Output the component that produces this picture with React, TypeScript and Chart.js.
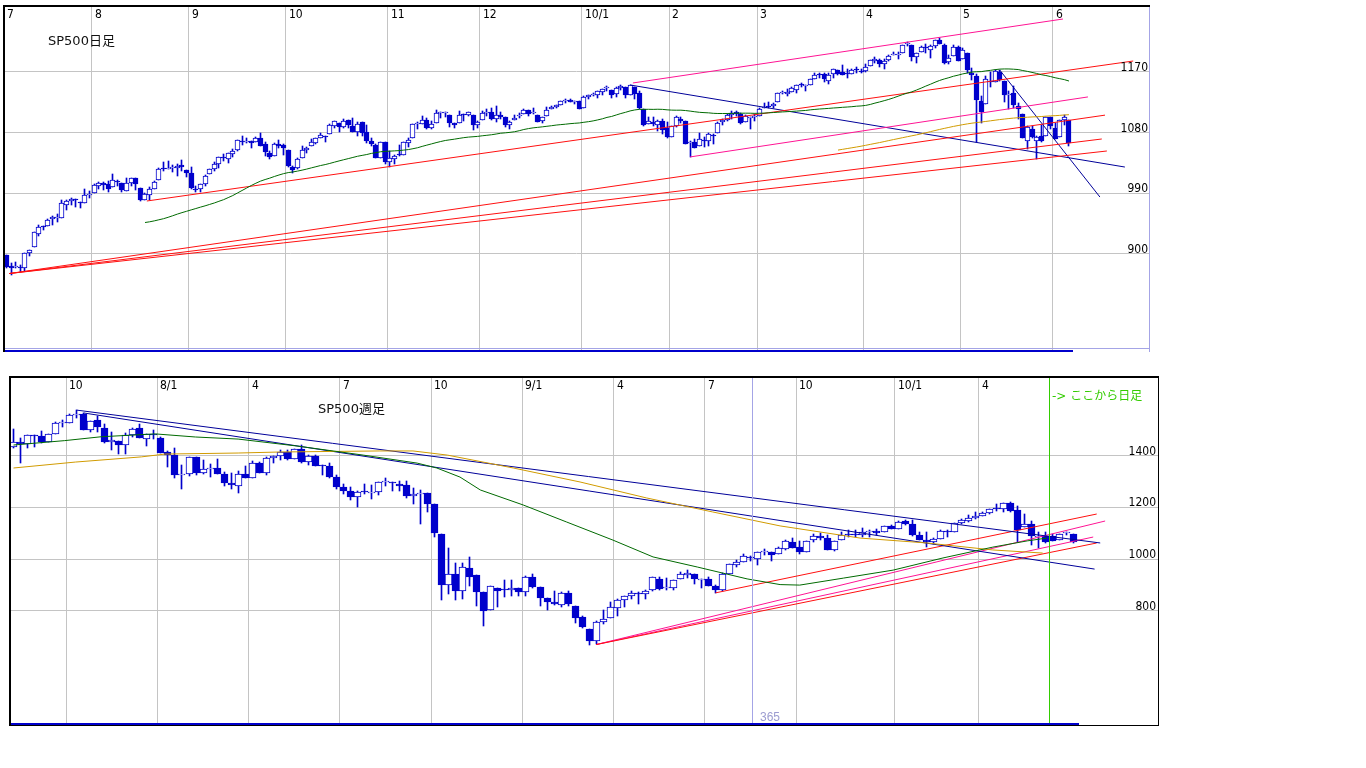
import React, { useEffect, useRef } from "react";
import { Chart, registerables } from "chart.js";

Chart.register(...registerables);

// ---------------- DAILY (SP500 日足, 2009/7/7 - 2010/6/4) ----------------
const dailyMonthStarts = [0, 19, 40, 61, 83, 103, 125, 144, 163, 186, 207, 227];
const dailyMonthLabels = ["7", "8", "9", "10", "11", "12", "10/1", "2", "3", "4", "5", "6"];
const dailyPriceTicks = [900, 990, 1080, 1170];

const dailyOpen = [
  898.6, 881.9, 881.3, 880.0, 879.6, 900.8, 910.2, 930.2, 940.6, 942.1, 951.9, 953.4, 954.1, 972.2, 978.6, 981.5, 977.7, 976.0, 986.8,
  990.2, 1001.4, 1005.4, 1004.1, 999.8, 1008.9, 1005.8, 994.0, 1005.9, 1012.2, 998.2, 980.6, 986.9, 996.4, 1009.1, 1026.6, 1026.6, 1027.4, 1027.8, 1031.6, 1025.2,
  1019.5, 996.1, 996.1, 1003.8, 1018.7, 1025.4, 1033.0, 1043.9, 1040.2, 1049.0, 1054.0, 1067.9, 1066.6, 1067.1, 1066.4, 1072.7, 1062.6, 1049.5, 1045.4, 1063.7, 1061.0,
  1054.9, 1029.7, 1026.9, 1042.0, 1053.7, 1060.0, 1065.3, 1071.6, 1075.0, 1078.7, 1090.4, 1094.7, 1088.2, 1098.6, 1090.4, 1081.0, 1095.6, 1080.4, 1067.5, 1061.5, 1043.0, 1065.4,
  1036.2, 1040.9, 1047.1, 1047.3, 1065.0, 1072.3, 1092.2, 1093.1, 1098.3, 1087.6, 1094.1, 1109.2, 1109.4, 1106.4, 1094.7, 1094.9, 1105.8, 1106.5, 1105.5, 1091.1,
  1098.9, 1109.0, 1110.6, 1100.4, 1105.5, 1103.0, 1091.1, 1098.7, 1104.0, 1107.8, 1114.1, 1108.6, 1106.4, 1097.9, 1105.3, 1114.5, 1118.8, 1121.1, 1127.5, 1128.6, 1125.5, 1126.6,
  1116.6, 1132.7, 1135.7, 1136.3, 1140.5, 1146.0, 1143.8, 1137.3, 1145.7, 1147.7, 1136.0, 1148.0, 1138.7, 1115.5, 1092.4, 1095.8, 1091.9, 1096.9, 1087.6,
  1073.9, 1090.1, 1100.7, 1097.3, 1064.1, 1065.5, 1060.1, 1069.7, 1067.1, 1076.0, 1079.1, 1096.1, 1099.0, 1105.5, 1110.0, 1107.5, 1095.9, 1101.2, 1103.1,
  1105.4, 1117.0, 1119.4, 1119.1, 1125.1, 1138.4, 1137.6, 1140.2, 1144.0, 1151.7, 1148.5, 1150.8, 1159.9, 1166.1, 1166.7, 1157.3, 1166.5, 1172.7, 1170.0, 1167.6, 1167.7, 1173.8, 1171.8,
  1171.2, 1178.7, 1186.0, 1188.2, 1181.8, 1187.5, 1194.9, 1195.9, 1198.7, 1210.8, 1210.2, 1192.1, 1199.0, 1207.2, 1202.5, 1207.9, 1217.1, 1209.9, 1184.6, 1193.3, 1206.8,
  1188.6, 1197.5, 1169.2, 1164.4, 1127.0, 1122.3, 1156.4, 1155.4, 1170.0, 1157.2, 1136.5, 1138.8, 1119.6, 1107.3, 1067.3, 1084.8, 1067.4, 1075.5, 1074.3, 1102.6,
  1087.3, 1073.0, 1098.8, 1098.4,
];
const dailyHigh = [
  898.6, 886.8, 887.9, 883.6, 901.1, 905.8, 933.0, 943.0, 941.9, 951.6, 956.5, 959.8, 979.4, 979.8, 982.5, 982.2, 977.8, 996.7, 993.2,
  1003.6, 1007.1, 1006.6, 1008.0, 1018.0, 1010.1, 1005.8, 1012.8, 1013.1, 1012.6, 998.2, 991.2, 999.6, 1008.9, 1027.6, 1035.8, 1037.8, 1032.5, 1033.3, 1039.5, 1025.2,
  1028.5, 1000.3, 1003.4, 1016.5, 1026.1, 1036.3, 1044.1, 1048.2, 1049.7, 1056.0, 1068.8, 1074.8, 1071.5, 1067.3, 1073.8, 1080.2, 1066.3, 1053.5, 1065.1, 1069.6, 1063.4,
  1054.9, 1030.6, 1042.6, 1060.6, 1058.0, 1070.7, 1071.5, 1079.5, 1075.3, 1093.2, 1096.6, 1094.7, 1100.2, 1098.6, 1101.4, 1095.2, 1095.8, 1091.8, 1072.5, 1063.3, 1066.8, 1065.4,
  1052.2, 1046.4, 1061.0, 1066.7, 1071.5, 1093.2, 1095.8, 1105.4, 1102.0, 1097.6, 1113.7, 1110.5, 1111.1, 1106.4, 1094.7, 1112.4, 1107.6, 1111.2, 1105.5, 1097.2,
  1112.3, 1115.6, 1117.3, 1119.1, 1110.7, 1103.0, 1097.0, 1106.3, 1108.5, 1114.8, 1114.1, 1116.2, 1106.4, 1103.7, 1117.7, 1120.0, 1121.6, 1126.5, 1130.4, 1130.4, 1126.4, 1127.6,
  1133.9, 1136.6, 1139.2, 1142.5, 1145.4, 1149.7, 1143.8, 1148.4, 1150.4, 1147.8, 1150.5, 1148.0, 1141.6, 1115.5, 1103.0, 1103.7, 1099.5, 1100.2, 1096.5,
  1089.4, 1104.7, 1102.7, 1097.3, 1067.1, 1071.2, 1079.3, 1073.7, 1080.0, 1077.8, 1095.7, 1100.0, 1108.2, 1112.4, 1112.3, 1108.6, 1106.4, 1103.5, 1107.2,
  1116.1, 1123.5, 1125.6, 1123.7, 1139.4, 1141.1, 1145.4, 1148.3, 1150.2, 1153.4, 1151.0, 1160.3, 1169.2, 1167.8, 1169.2, 1167.8, 1174.7, 1173.0, 1180.7, 1173.9, 1174.9, 1177.8, 1174.6,
  1181.4, 1187.7, 1191.8, 1189.6, 1188.6, 1194.7, 1199.2, 1199.0, 1210.7, 1213.9, 1210.2, 1197.9, 1208.6, 1211.0, 1210.3, 1217.3, 1219.8, 1211.4, 1195.1, 1209.4, 1208.0,
  1205.1, 1197.5, 1176.0, 1167.6, 1135.1, 1163.9, 1170.5, 1172.9, 1173.6, 1157.2, 1141.9, 1148.7, 1124.3, 1107.3, 1090.2, 1090.0, 1074.7, 1090.8, 1103.5, 1102.6,
  1094.8, 1098.6, 1105.7, 1098.4,
];
const dailyLow = [
  879.9, 869.3, 878.5, 872.8, 875.3, 896.5, 910.2, 927.4, 934.9, 940.9, 943.2, 947.8, 953.3, 965.9, 972.3, 969.4, 968.7, 976.0, 982.9,
  990.2, 996.7, 994.3, 992.5, 999.8, 1001.0, 992.4, 993.4, 1000.8, 994.6, 978.5, 980.6, 980.6, 996.4, 1009.1, 1022.5, 1026.2, 1021.6, 1016.2, 1023.1, 1014.6,
  996.3, 992.0, 992.3, 1001.6, 1018.7, 1023.2, 1028.0, 1038.4, 1035.0, 1043.4, 1052.9, 1061.0, 1064.3, 1057.5, 1066.4, 1060.4, 1045.9, 1041.2, 1045.4, 1057.8, 1046.5,
  1029.4, 1020.0, 1025.9, 1042.0, 1050.0, 1060.0, 1063.0, 1071.6, 1066.7, 1078.7, 1086.4, 1081.5, 1086.5, 1086.2, 1080.8, 1074.3, 1075.5, 1065.2, 1060.6, 1042.2, 1043.0, 1033.4,
  1029.4, 1033.9, 1045.2, 1047.3, 1059.3, 1072.3, 1086.0, 1093.1, 1084.9, 1085.3, 1094.1, 1102.2, 1102.7, 1088.4, 1086.8, 1094.9, 1097.6, 1104.8, 1083.7, 1086.3,
  1098.9, 1105.3, 1098.7, 1096.5, 1100.8, 1088.6, 1085.9, 1098.7, 1101.3, 1107.8, 1105.4, 1108.0, 1095.9, 1093.9, 1105.3, 1114.5, 1116.0, 1121.1, 1123.5, 1126.1, 1121.9, 1114.8,
  1116.6, 1129.7, 1134.0, 1131.3, 1136.2, 1142.0, 1131.8, 1133.2, 1143.8, 1131.4, 1135.2, 1129.3, 1114.8, 1090.2, 1092.4, 1089.9, 1083.1, 1078.5, 1071.6,
  1073.9, 1088.0, 1094.0, 1062.8, 1044.5, 1056.5, 1060.1, 1059.3, 1060.1, 1063.0, 1079.1, 1091.3, 1097.5, 1100.8, 1105.4, 1092.2, 1095.9, 1086.0, 1097.6,
  1105.4, 1116.5, 1116.6, 1116.1, 1125.1, 1136.8, 1134.9, 1140.1, 1139.0, 1147.0, 1141.5, 1150.4, 1159.9, 1161.2, 1155.3, 1152.9, 1161.6, 1166.0, 1165.1, 1161.5, 1167.7, 1168.5, 1168.6,
  1170.7, 1178.7, 1182.8, 1177.3, 1175.1, 1186.0, 1194.7, 1188.8, 1198.7, 1208.5, 1186.8, 1183.7, 1199.0, 1198.9, 1190.2, 1205.1, 1211.1, 1181.6, 1181.8, 1193.3, 1186.3,
  1188.6, 1168.1, 1158.2, 1065.8, 1094.2, 1122.3, 1147.7, 1155.4, 1156.1, 1126.1, 1115.0, 1117.2, 1100.7, 1071.6, 1055.9, 1072.7, 1040.8, 1065.6, 1074.3, 1084.8,
  1069.9, 1073.0, 1091.8, 1060.5,
];
const dailyClose = [
  881.0, 879.6, 882.7, 879.1, 901.1, 905.8, 932.7, 940.7, 940.4, 951.1, 954.6, 954.1, 976.3, 979.3, 982.2, 979.6, 975.2, 986.8, 987.5,
  1002.6, 1005.7, 1002.7, 997.1, 1010.5, 1007.1, 994.4, 1005.8, 1012.7, 1004.1, 979.7, 989.7, 996.5, 1007.4, 1026.1, 1025.6, 1028.0, 1028.1, 1031.0, 1028.9, 1020.6,
  998.0, 994.8, 1003.2, 1016.4, 1025.4, 1033.4, 1044.1, 1042.7, 1049.3, 1052.6, 1068.8, 1065.5, 1068.3, 1064.7, 1071.7, 1060.9, 1050.8, 1044.4, 1063.0, 1060.6, 1057.1,
  1029.9, 1025.2, 1040.5, 1054.7, 1057.6, 1065.5, 1071.5, 1076.2, 1073.2, 1092.0, 1096.6, 1087.7, 1097.9, 1091.1, 1081.4, 1092.9, 1079.6, 1067.0, 1063.4, 1042.6, 1066.1, 1036.2,
  1042.9, 1045.4, 1046.5, 1066.6, 1069.3, 1093.1, 1093.0, 1098.5, 1087.2, 1093.5, 1109.3, 1110.3, 1109.8, 1094.9, 1091.4, 1106.2, 1105.7, 1110.6, 1091.5, 1095.6,
  1108.9, 1109.2, 1099.9, 1106.0, 1103.3, 1091.9, 1096.0, 1102.4, 1106.4, 1114.1, 1107.9, 1109.2, 1096.1, 1102.5, 1114.1, 1118.0, 1120.6, 1126.5, 1127.8, 1126.2, 1126.4, 1115.1,
  1133.0, 1136.5, 1137.1, 1141.7, 1145.0, 1147.0, 1136.2, 1145.7, 1148.5, 1136.0, 1150.2, 1138.0, 1116.5, 1091.8, 1096.8, 1092.2, 1097.5, 1084.5, 1073.9,
  1089.2, 1103.3, 1097.3, 1063.1, 1066.2, 1056.7, 1070.5, 1068.1, 1078.5, 1075.5, 1094.9, 1099.5, 1106.8, 1109.2, 1108.0, 1094.6, 1105.2, 1102.9, 1104.5,
  1115.7, 1118.3, 1118.8, 1123.0, 1138.7, 1138.5, 1140.5, 1145.6, 1150.2, 1150.0, 1150.5, 1159.5, 1166.2, 1165.8, 1159.9, 1165.8, 1174.2, 1167.7, 1165.7, 1166.6, 1173.2, 1173.3, 1169.4,
  1178.1, 1187.4, 1189.4, 1182.5, 1186.4, 1194.4, 1196.5, 1197.3, 1210.7, 1211.7, 1192.1, 1197.5, 1207.2, 1205.9, 1208.7, 1217.3, 1212.1, 1183.7, 1191.4, 1206.8, 1186.7,
  1202.3, 1173.6, 1165.9, 1128.2, 1110.9, 1159.7, 1155.8, 1171.7, 1157.4, 1135.7, 1136.9, 1120.8, 1115.1, 1071.6, 1087.7, 1073.7, 1074.0, 1068.0, 1103.1, 1089.4,
  1070.7, 1098.4, 1102.8, 1064.9,
];
// closes of the 19 sessions before the first bar (used by the moving averages)
const dailyHistoryClose = [
  942.4, 939.2, 944.9, 946.2, 923.7, 912.0, 910.7, 918.4, 921.2, 893.0, 895.1, 900.9, 920.3, 918.9, 927.2, 919.3, 923.3, 896.4, 898.7,
];
const dailyMaShort = 50;
const dailyMaLong = 200;

// trend lines (bar index, price)
const dailyRedLines: [number, number][][] = [
  [[0.6, 871], [237.8, 1106]],
  [[0.6, 871], [237.1, 1070.6]],
  [[0.6, 871], [238.2, 1052.8]],
  [[30.4, 978.6], [243.9, 1186.3]],
];
const dailyPinkLines: [number, number][][] = [
  [[148, 1044], [234.1, 1133]],
  [[135.6, 1153.7], [228.7, 1248.6]],
];
const dailyNavyLines: [number, number][][] = [
  [[135, 1150.7], [242.1, 1029]],
  [[215, 1173], [236.7, 984.5]],
];

// ---------------- WEEKLY (SP500 週足, 2007/8 - 2010/6, last 4 bars daily) ----------------
const weeklyQuarterStarts = [8, 21, 34, 47, 60, 73, 86, 99, 112, 126, 138];
const weeklyQuarterLabels = ["10", "8/1", "4", "7", "10", "9/1", "4", "7", "10", "10/1", "4"];
const weeklyPriceTicks = [800, 1000, 1200, 1400];
const weeklyDailyFrom = 148;
const weeklyMarker = 105.2;

const weeklyOpen = [
  1433.1, 1453.4, 1445.6, 1479.4, 1474.0, 1453.4, 1484.2, 1525.8, 1527.3, 1557.4,
  1562.0, 1500.6, 1536.9, 1505.0, 1453.7, 1456.4, 1440.7, 1479.6, 1505.1, 1465.1,
  1484.9, 1468.0, 1414.8, 1404.0, 1325.2, 1330.5, 1395.4, 1331.1, 1350.0, 1353.1,
  1330.5, 1293.2, 1283.2, 1330.5, 1315.2, 1370.2, 1332.2, 1390.8, 1397.8, 1415.3,
  1388.3, 1425.3, 1375.9, 1399.6, 1360.8, 1360.0, 1317.9, 1278.1, 1262.9, 1239.5,
  1261.8, 1257.1, 1260.3, 1296.3, 1298.1, 1290.5, 1287.8, 1242.3, 1251.7, 1255.4,
  1213.1, 1097.6, 899.2, 940.5, 876.8, 966.3, 936.8, 873.5, 801.2, 888.6,
  882.2, 881.1, 887.2, 870.6, 929.2, 890.4, 849.6, 832.5, 823.1, 869.0,
  818.7, 773.7, 729.6, 683.4, 756.6, 772.3, 809.1, 842.5, 856.9, 868.3,
  866.2, 879.2, 923.0, 886.1, 887.0, 923.3, 940.0, 943.4, 918.1, 920.8,
  894.3, 880.0, 942.1, 978.6, 990.2, 1008.9, 998.2, 1026.6, 1025.2, 1018.7,
  1040.2, 1067.1, 1045.4, 1026.9, 1071.6, 1088.2, 1080.4, 1036.2, 1072.3, 1094.1,
  1094.9, 1091.1, 1105.5, 1107.8, 1105.3, 1127.5, 1116.6, 1146.0, 1136.0, 1092.4,
  1073.9, 1065.5, 1079.1, 1110.0, 1105.4, 1138.4, 1148.5, 1157.3, 1167.7, 1178.7,
  1194.9, 1192.1, 1217.1, 1188.6, 1122.3, 1136.5, 1084.8, 1087.3,
  1087.3, 1073.0, 1098.8, 1098.4,
];
const weeklyHigh = [
  1503.9, 1466.3, 1479.4, 1481.5, 1496.4, 1485.0, 1530.0, 1538.7, 1561.9, 1576.1,
  1564.7, 1535.3, 1552.8, 1520.8, 1492.1, 1456.4, 1488.9, 1508.1, 1523.6, 1485.4,
  1498.8, 1471.8, 1418.0, 1428.0, 1365.4, 1396.0, 1395.4, 1382.0, 1367.9, 1388.0,
  1335.1, 1333.5, 1341.6, 1359.7, 1380.9, 1377.0, 1395.9, 1400.0, 1421.6, 1422.7,
  1426.1, 1440.2, 1404.1, 1404.1, 1364.3, 1370.6, 1326.0, 1291.2, 1278.5, 1262.3,
  1291.2, 1284.7, 1297.9, 1313.2, 1298.1, 1300.7, 1303.0, 1274.4, 1265.1, 1255.5,
  1213.1, 1097.6, 1044.3, 985.4, 984.4, 1007.5, 936.8, 873.5, 896.2, 888.6,
  918.6, 918.9, 887.4, 934.7, 943.9, 890.4, 849.6, 877.9, 870.8, 875.0,
  818.7, 780.1, 729.6, 758.3, 804.5, 833.0, 845.6, 856.9, 875.6, 871.8,
  880.3, 930.2, 930.2, 924.6, 920.0, 951.0, 956.2, 943.4, 922.0, 931.9,
  898.7, 944.0, 979.8, 996.7, 1018.0, 1013.1, 1027.6, 1039.5, 1028.5, 1048.2,
  1074.8, 1080.2, 1069.6, 1071.5, 1096.6, 1101.4, 1091.8, 1071.5, 1105.4, 1113.7,
  1112.4, 1119.1, 1110.7, 1116.2, 1126.5, 1130.4, 1145.4, 1150.4, 1150.5, 1103.7,
  1104.7, 1080.0, 1112.4, 1112.3, 1139.4, 1153.4, 1169.2, 1180.7, 1181.4, 1194.7,
  1213.9, 1217.3, 1219.8, 1205.1, 1173.6, 1148.7, 1103.5, 1105.7,
  1094.8, 1098.6, 1105.7, 1098.4,
];
const weeklyLow = [
  1429.4, 1370.6, 1430.5, 1432.0, 1449.1, 1453.4, 1484.2, 1510.8, 1526.6, 1546.7,
  1500.6, 1489.6, 1492.5, 1448.2, 1420.3, 1406.1, 1407.1, 1472.4, 1467.4, 1435.7,
  1464.0, 1411.2, 1357.7, 1312.0, 1270.1, 1322.4, 1324.3, 1330.1, 1317.7, 1330.7,
  1282.4, 1272.3, 1257.0, 1313.2, 1315.2, 1331.9, 1324.4, 1370.9, 1384.1, 1384.5,
  1386.6, 1373.1, 1362.7, 1359.1, 1325.9, 1314.5, 1272.0, 1252.0, 1228.4, 1200.4,
  1250.8, 1233.7, 1247.5, 1282.8, 1261.3, 1262.5, 1236.1, 1212.3, 1133.5, 1180.7,
  1084.4, 839.8, 865.8, 840.9, 845.3, 897.0, 818.7, 741.0, 801.2, 815.7,
  851.4, 857.7, 857.1, 857.7, 888.3, 817.0, 804.3, 821.7, 812.8, 818.4,
  754.3, 734.7, 666.8, 672.9, 747.2, 772.3, 779.8, 814.5, 844.3, 826.8,
  847.1, 875.6, 878.9, 880.9, 881.5, 923.3, 927.2, 904.8, 888.9, 896.4,
  869.3, 875.3, 940.9, 968.7, 990.2, 992.4, 978.5, 1016.2, 992.0, 1018.7,
  1035.0, 1041.2, 1020.0, 1025.9, 1066.7, 1074.3, 1033.4, 1029.4, 1072.3, 1086.8,
  1083.7, 1086.3, 1085.9, 1093.9, 1105.3, 1114.8, 1116.6, 1131.4, 1090.2, 1071.6,
  1044.5, 1056.5, 1079.1, 1086.0, 1105.4, 1134.9, 1141.5, 1152.9, 1167.7, 1175.1,
  1186.8, 1183.7, 1181.6, 1065.8, 1122.3, 1055.9, 1040.8, 1060.5,
  1069.9, 1073.0, 1091.8, 1060.5,
];
const weeklyClose = [
  1453.6, 1445.9, 1479.4, 1474.0, 1453.6, 1484.3, 1525.8, 1526.8, 1557.6, 1561.8,
  1500.6, 1535.3, 1509.7, 1453.7, 1458.7, 1440.7, 1481.1, 1504.7, 1468.0, 1484.5,
  1478.5, 1411.6, 1401.0, 1325.2, 1330.6, 1395.4, 1331.3, 1350.0, 1353.1, 1330.6,
  1293.4, 1288.1, 1329.5, 1315.2, 1370.4, 1332.8, 1390.3, 1397.8, 1413.9, 1388.3,
  1425.4, 1375.9, 1400.4, 1360.7, 1360.0, 1317.9, 1278.4, 1262.9, 1239.5, 1260.7,
  1257.8, 1260.3, 1296.3, 1298.2, 1292.2, 1282.8, 1242.3, 1251.7, 1255.1, 1213.3,
  1099.2, 899.2, 940.6, 876.8, 968.8, 931.0, 873.3, 800.0, 896.2, 876.1,
  879.7, 887.9, 872.8, 931.8, 890.4, 850.1, 832.0, 825.9, 868.6, 826.8,
  770.1, 735.1, 683.4, 756.6, 768.5, 815.9, 842.5, 856.6, 869.6, 866.2,
  877.5, 929.2, 882.9, 887.0, 919.1, 940.1, 946.2, 921.2, 918.9, 896.4,
  879.1, 940.4, 979.3, 987.5, 1010.5, 1004.1, 1026.1, 1028.9, 1016.4, 1042.7,
  1068.3, 1044.4, 1025.2, 1071.5, 1087.7, 1079.6, 1036.2, 1069.3, 1093.5, 1091.4,
  1091.5, 1106.0, 1106.4, 1102.5, 1126.5, 1115.1, 1145.0, 1136.0, 1091.8, 1073.9,
  1066.2, 1075.5, 1109.2, 1104.5, 1138.7, 1150.0, 1159.9, 1166.6, 1178.1, 1194.4,
  1192.1, 1217.3, 1186.7, 1110.9, 1135.7, 1087.7, 1089.4, 1064.9,
  1070.7, 1098.4, 1102.8, 1064.9,
];
// moving averages (bar index, price)
const weeklyMa52: [number, number][] = [
  [0, 1441], [7.3, 1458], [12.5, 1473], [20.2, 1484], [25.9, 1472], [32, 1464], [40.4, 1437],
  [49.8, 1402], [57.5, 1371], [60.3, 1352], [63.6, 1317], [66.5, 1267], [72.6, 1209], [78.8, 1143],
  [85.4, 1073], [91.1, 1008], [97.4, 969], [104.5, 923], [109.2, 901], [112, 899], [118.2, 926],
  [125.3, 957], [132.4, 1004], [139.5, 1046], [144.4, 1070], [147.2, 1081],
];
const weeklyMa100: [number, number][] = [
  [0, 1352], [8.8, 1375], [18.2, 1395], [21.6, 1406], [32, 1410], [38, 1414], [52.2, 1418],
  [56.9, 1418], [61.8, 1402], [71.2, 1352], [80.7, 1298], [90.2, 1236], [99.6, 1182],
  [109.2, 1128], [120.6, 1081], [130.1, 1062], [139.5, 1035], [146.6, 1023],
];
const weeklyNavyLines: [number, number][][] = [
  [[9, 1576], [154.8, 1062]],
  [[10, 1565], [154, 961]],
];
const weeklyRedLines: [number, number][][] = [
  [[100, 869], [154.3, 1174]],
  [[83, 669], [154.3, 1062]],
];
const weeklyPinkLines: [number, number][][] = [
  [[83, 669], [155.5, 1147]],
  [[83, 669], [153.8, 1085]],
];

// ---------------- styling ----------------
const BLUE = "#0000cc";
const RED = "#ff1010";
const PINK = "#ff1493";
const NAVY = "#000099";
const GREEN = "#006a00";
const GOLD = "#d19b00";
const GRID = "#c4c4c4";
const LAVENDER = "#a4a4e6";
const LIME = "#33cc00";
const NUM_FONT = "12px 'Liberation Sans Narrow', 'DejaVu Sans Condensed', 'Liberation Sans', sans-serif";
const TITLE_FONT = "13px 'DejaVu Sans', 'Noto Sans CJK JP', sans-serif";

function movingAverage(history: number[], closes: number[], period: number) {
  const all = [...history, ...closes];
  const pts: { x: number; y: number }[] = [];
  for (let i = 0; i < closes.length; i++) {
    const k = i + history.length;
    if (k < period - 1) continue;
    let s = 0;
    for (let j = k - period + 1; j <= k; j++) s += all[j];
    pts.push({ x: i, y: s / period });
  }
  return pts;
}

function candleSets(o: number[], h: number[], l: number[], c: number[], bodyWidth: number) {
  const idx = o.map((_, i) => i);
  return [
    {
      type: "bar",
      data: idx.map((i) => ({ x: i, y: [l[i], h[i]] })),
      backgroundColor: BLUE,
      borderWidth: 0,
      barThickness: 1,
      grouped: false,
      order: 3,
    },
    {
      type: "bar",
      data: idx.map((i) => ({ x: i, y: [o[i], c[i]] })),
      backgroundColor: idx.map((i) => (c[i] >= o[i] ? "#ffffff" : BLUE)),
      borderColor: BLUE,
      borderWidth: 1,
      borderSkipped: false,
      barThickness: bodyWidth,
      minBarLength: 1,
      grouped: false,
      order: 2,
    },
  ];
}

function lineSet(points: { x: number; y: number }[], color: string, width = 1) {
  return {
    type: "line",
    data: points,
    borderColor: color,
    borderWidth: width,
    pointRadius: 0,
    fill: false,
    tension: 0,
    order: 1,
  };
}

function segSets(segs: [number, number][][], color: string) {
  return segs.map((s) => lineSet(s.map(([x, y]) => ({ x, y })), color));
}

function scalesFor(xmin: number, xmax: number, ymin: number, ymax: number, xt: number[], yt: number[]) {
  return {
    x: {
      type: "linear",
      min: xmin,
      max: xmax,
      offset: false,
      grid: { color: GRID, lineWidth: 1, drawTicks: false, offset: false },
      border: { display: false },
      ticks: { display: false },
      afterBuildTicks: (s: any) => {
        s.ticks = xt.map((v) => ({ value: v }));
      },
      afterFit: (s: any) => {
        s.height = 0;
      },
    },
    y: {
      type: "linear",
      position: "right",
      min: ymin,
      max: ymax,
      grid: { color: GRID, lineWidth: 1, drawTicks: false },
      border: { display: false },
      ticks: { display: false },
      afterBuildTicks: (s: any) => {
        s.ticks = yt.map((v) => ({ value: v }));
      },
      afterFit: (s: any) => {
        s.width = 0;
      },
    },
  };
}

// snap candle rectangles (computed by the bar controller) onto whole pixels
const pixelSnap = {
  id: "pixelSnap",
  beforeDatasetsDraw(chart: any) {
    chart.data.datasets.forEach((_: any, di: number) => {
      const meta = chart.getDatasetMeta(di);
      if (meta.type !== "bar") return;
      meta.data.forEach((el: any) => {
        const w = Math.round(el.width);
        el.x = w % 2 ? Math.floor(el.x) + 0.5 : Math.round(el.x);
        el.y = Math.round(el.y);
        el.base = Math.round(el.base);
      });
    });
  },
};

const topDecor = {
  id: "topDecor",
  afterDraw(chart: any) {
    const { ctx, chartArea: a, scales } = chart;
    const x = scales.x;
    const y = scales.y;
    ctx.save();
    ctx.fillStyle = LAVENDER;
    ctx.fillRect(a.left, a.bottom - 4, a.right - a.left + 1, 1);
    ctx.fillRect(a.right, a.top, 1, a.bottom - a.top);
    ctx.fillStyle = BLUE;
    const xEnd = Math.round(x.getPixelForValue(dailyClose.length - 1)) + 4;
    ctx.fillRect(a.left, a.bottom - 2, xEnd - a.left, 2);
    ctx.fillStyle = "#000";
    ctx.fillRect(a.left - 1, a.top - 1, a.right - a.left + 2, 2);
    ctx.fillRect(a.left - 1, a.top - 1, 2, a.bottom - a.top + 1);
    ctx.font = NUM_FONT;
    ctx.textAlign = "left";
    ctx.textBaseline = "top";
    dailyMonthStarts.forEach((m, k) => {
      ctx.fillText(dailyMonthLabels[k], Math.round(x.getPixelForValue(m - 0.5)) + 3, a.top + 3);
    });
    ctx.textAlign = "right";
    ctx.textBaseline = "alphabetic";
    dailyPriceTicks.forEach((v) => {
      ctx.fillText(String(v), a.right - 1, Math.round(y.getPixelForValue(v)) - 1);
    });
    ctx.font = TITLE_FONT;
    ctx.textAlign = "left";
    ctx.textBaseline = "top";
    ctx.fillStyle = "#111";
    ctx.fillText("SP500日足", 48, 35);
    ctx.restore();
  },
};

const bottomDecor = {
  id: "bottomDecor",
  afterDraw(chart: any) {
    const { ctx, chartArea: a, scales } = chart;
    const x = scales.x;
    const y = scales.y;
    ctx.save();
    // marker line + 365
    const mx = Math.round(x.getPixelForValue(weeklyMarker));
    ctx.fillStyle = LAVENDER;
    ctx.fillRect(mx, a.top, 1, a.bottom - a.top);
    ctx.font = "12px 'Liberation Sans', 'DejaVu Sans', sans-serif";
    ctx.fillStyle = "#9c9cd0";
    ctx.textAlign = "left";
    ctx.textBaseline = "alphabetic";
    ctx.fillText("365", mx + 8, a.bottom - 4);
    // daily start line
    const gx = Math.round(x.getPixelForValue(weeklyDailyFrom - 0.5));
    ctx.fillStyle = LIME;
    ctx.fillRect(gx, a.top, 1, a.bottom - a.top);
    ctx.font = "12px 'DejaVu Sans', 'Noto Sans CJK JP', sans-serif";
    ctx.textBaseline = "top";
    ctx.fillText("-> ここから日足", gx + 3, a.top + 14);
    // bottom blue bar
    ctx.fillStyle = BLUE;
    const xEnd = Math.round(x.getPixelForValue(weeklyClose.length - 1)) + 5;
    ctx.fillRect(a.left, a.bottom - 2, xEnd - a.left, 2);
    // frame
    ctx.strokeStyle = "#000";
    ctx.lineWidth = 1;
    ctx.strokeRect(a.left - 0.5, a.top - 0.5, a.right - a.left + 1, a.bottom - a.top + 1);
    ctx.fillStyle = "#000";
    ctx.fillRect(a.left - 1, a.top - 1, a.right - a.left + 2, 2);
    ctx.fillRect(a.left - 1, a.top - 1, 2, a.bottom - a.top + 2);
    // labels
    ctx.font = NUM_FONT;
    ctx.fillStyle = "#000";
    ctx.textAlign = "left";
    ctx.textBaseline = "top";
    weeklyQuarterStarts.forEach((m, k) => {
      ctx.fillText(weeklyQuarterLabels[k], Math.round(x.getPixelForValue(m - 0.5)) + 3, a.top + 3);
    });
    ctx.textAlign = "right";
    ctx.textBaseline = "alphabetic";
    weeklyPriceTicks.forEach((v) => {
      ctx.fillText(String(v), a.right - 2, Math.round(y.getPixelForValue(v)) - 1);
    });
    ctx.font = TITLE_FONT;
    ctx.textAlign = "left";
    ctx.textBaseline = "top";
    ctx.fillStyle = "#111";
    ctx.fillText("SP500週足", 318, 33);
    ctx.restore();
  },
};

function topConfig(): any {
  const ma50 = movingAverage(dailyHistoryClose, dailyClose, dailyMaShort);
  const ma200 = movingAverage(dailyHistoryClose, dailyClose, dailyMaLong);
  return {
    type: "bar",
    data: {
      datasets: [
        ...candleSets(dailyOpen, dailyHigh, dailyLow, dailyClose, 5),
        lineSet(ma50, GREEN),
        lineSet(ma200, GOLD),
        ...segSets(dailyRedLines, RED),
        ...segSets(dailyPinkLines, PINK),
        ...segSets(dailyNavyLines, NAVY),
      ],
    },
    options: {
      animation: false,
      responsive: false,
      devicePixelRatio: 1,
      events: [],
      layout: { padding: { left: 4, top: 6, right: 11, bottom: 8 } },
      plugins: { legend: { display: false }, tooltip: { enabled: false }, title: { display: false } },
      scales: scalesFor(
        -0.5195,
        247.32,
        754.6,
        1267.9,
        dailyMonthStarts.map((m) => m - 0.5),
        dailyPriceTicks
      ),
    },
    plugins: [pixelSnap, topDecor],
  };
}

function bottomConfig(): any {
  return {
    type: "bar",
    data: {
      datasets: [
        ...candleSets(weeklyOpen, weeklyHigh, weeklyLow, weeklyClose, 7),
        lineSet(weeklyMa52.map(([x, y]) => ({ x, y })), GREEN),
        lineSet(weeklyMa100.map(([x, y]) => ({ x, y })), GOLD),
        ...segSets(weeklyNavyLines, NAVY),
        ...segSets(weeklyRedLines, RED),
        ...segSets(weeklyPinkLines, PINK),
      ],
    },
    options: {
      animation: false,
      responsive: false,
      devicePixelRatio: 1,
      events: [],
      layout: { padding: { left: 10, top: 7, right: 12, bottom: 5 } },
      plugins: { legend: { display: false }, tooltip: { enabled: false }, title: { display: false } },
      scales: scalesFor(
        -0.4986,
        163.03,
        357.8,
        1704.1,
        weeklyQuarterStarts.map((m) => m - 0.5),
        weeklyPriceTicks
      ),
    },
    plugins: [pixelSnap, bottomDecor],
  };
}

export default function App() {
  const topRef = useRef<HTMLCanvasElement>(null);
  const botRef = useRef<HTMLCanvasElement>(null);
  useEffect(() => {
    const c1 = new Chart(topRef.current as HTMLCanvasElement, topConfig());
    const c2 = new Chart(botRef.current as HTMLCanvasElement, bottomConfig());
    return () => {
      c1.destroy();
      c2.destroy();
    };
  }, []);
  return (
    <div style={{ position: "absolute", left: 0, top: 0, width: 1366, height: 768, background: "#ffffff" }}>
      <canvas
        ref={topRef}
        width={1160}
        height={360}
        style={{ position: "absolute", left: 0, top: 0, width: 1160, height: 360 }}
      />
      <canvas
        ref={botRef}
        width={1170}
        height={360}
        style={{ position: "absolute", left: 0, top: 370, width: 1170, height: 360 }}
      />
    </div>
  );
}
